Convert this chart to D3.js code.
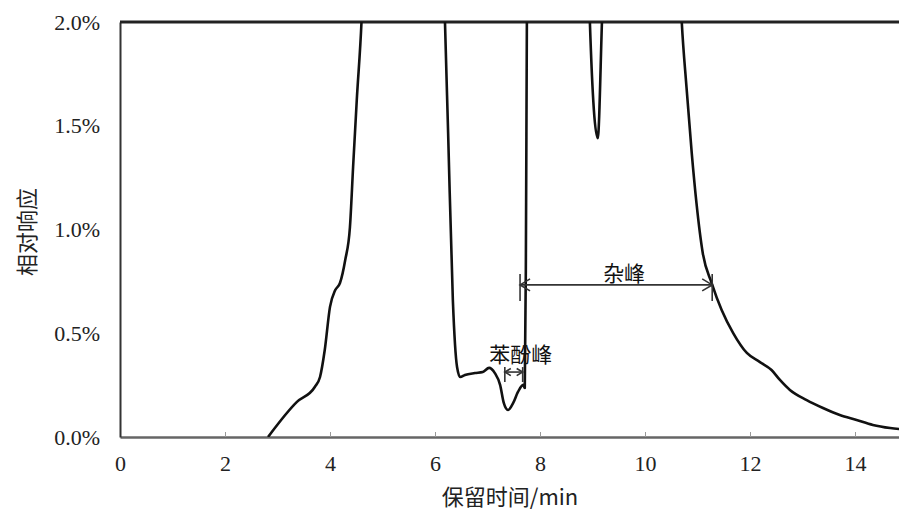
<!DOCTYPE html>
<html lang="zh">
<head>
<meta charset="UTF-8">
<title>相对响应</title>
<style>
  body { margin: 0; background: #fff; }
  .tick-label { font: 22px "Liberation Serif", serif; fill: #222; }
  .title { font: 22px "Noto Sans CJK SC", sans-serif; fill: #222; }
  .note { font: 21px "Noto Sans CJK SC", sans-serif; fill: #111; }
</style>
</head>
<body>
<script src="https://d3js.org/d3.v7.min.js"></script>
<script>
// retention time (min) and relative response (%)
var time = [2.82, 3.37, 3.71, 3.81, 3.90, 4.00, 4.10, 4.19, 4.29, 4.38, 4.44, 4.51, 4.60,
  4.75, 5.30, 6.00, 6.19, 6.25, 6.34, 6.42, 6.48, 6.57, 6.76, 6.91, 7.03, 7.14, 7.24,
  7.31, 7.39, 7.49, 7.58, 7.68, 7.71, 7.73, 7.75, 7.80, 8.40, 8.90, 8.95, 9.10, 9.18,
  9.30, 10.00, 10.60, 10.70, 10.79, 10.89, 10.98, 11.10, 11.27, 11.46, 11.68, 11.94,
  12.19, 12.41, 12.57, 12.76, 13.08, 13.39, 13.71, 14.03, 14.34, 14.67, 15.00];
var response = [0.000, 0.169, 0.241, 0.289, 0.419, 0.627, 0.708, 0.742, 0.853, 1.012, 1.301, 1.624, 2.000,
  3.200, 6.000, 4.000, 2.000, 1.465, 0.660, 0.337, 0.289, 0.299, 0.308, 0.313, 0.333, 0.308, 0.251,
  0.164, 0.130, 0.164, 0.217, 0.251, 0.236, 0.800, 2.000, 3.500, 5.000, 2.600, 2.000, 1.440, 2.000,
  3.000, 6.000, 2.600, 2.000, 1.687, 1.369, 1.128, 0.887, 0.742, 0.612, 0.501, 0.405,
  0.361, 0.323, 0.275, 0.227, 0.178, 0.140, 0.106, 0.082, 0.058, 0.043, 0.035];

var xTicks = [0, 2, 4, 6, 8, 10, 12, 14];
var yTicks = [0, 0.5, 1.0, 1.5, 2.0];

// peak width annotations: label, start, end (min), level (%)
var noteLabels = ["苯酚峰", "杂峰"];
var noteStart = [7.33, 7.62];
var noteEnd = [7.67, 11.28];
var noteLevel = [0.313, 0.733];

var width = 899, height = 516;
var plotLeft = 120, plotTop = 22, plotBottom = 437;

var svg = d3.select("body").append("svg").attr("width", width).attr("height", height);

var xScale = d3.scaleLinear().domain([0, 15]).range([plotLeft, plotLeft + 15 * 52.5]);
var yScale = d3.scaleLinear().domain([0, 2]).range([plotBottom, plotTop]);

var data = time.map(function(t, i) { return { t: t, v: response[i] }; });

svg.append("clipPath").attr("id", "plot")
  .append("rect").attr("x", plotLeft).attr("y", plotTop)
  .attr("width", width - plotLeft).attr("height", plotBottom - plotTop);

// x axis
var axisx = d3.axisBottom(xScale).tickValues(xTicks).tickSize(0).tickPadding(18)
  .tickFormat(d3.format("d"));
var gx = svg.append("g").attr("transform", "translate(0," + plotBottom + ")").call(axisx);
gx.select(".domain").attr("stroke", "#666").attr("stroke-width", 2.5);
gx.selectAll(".tick text").attr("class", "tick-label");
gx.attr("font-size", null).attr("font-family", null);
gx.selectAll(".tick").filter(function(d) { return d > 0; }).append("line")
  .attr("y1", 0).attr("y2", -5).attr("stroke", "#999").attr("stroke-width", 1);

// y axis
var axisy = d3.axisLeft(yScale).tickValues(yTicks).tickSize(0).tickPadding(20)
  .tickFormat(function(d) { return d.toFixed(1) + "%"; });
var gy = svg.append("g").attr("transform", "translate(" + plotLeft + ",0)").call(axisy);
gy.select(".domain").attr("stroke", "#333").attr("stroke-width", 2);
gy.selectAll(".tick text").attr("class", "tick-label");
gy.attr("font-size", null).attr("font-family", null);

// top frame line
svg.append("line")
  .attr("x1", plotLeft).attr("x2", width).attr("y1", yScale(2)).attr("y2", yScale(2))
  .attr("stroke", "#222").attr("stroke-width", 3);

// chromatogram
var line = d3.line()
  .x(function(d) { return xScale(d.t); })
  .y(function(d) { return yScale(d.v); })
  .curve(d3.curveMonotoneX);

svg.append("path")
  .datum(data)
  .attr("clip-path", "url(#plot)")
  .attr("fill", "none")
  .attr("stroke", "#111")
  .attr("stroke-width", 2.6)
  .attr("stroke-linejoin", "round")
  .attr("d", line);

// annotations
noteLabels.forEach(function(label, i) {
  var x0 = xScale(noteStart[i]), x1 = xScale(noteEnd[i]), y = yScale(noteLevel[i]);
  var g = svg.append("g").attr("stroke", "#333").attr("stroke-width", 1.6).attr("fill", "none");
  var h = i === 0 ? 10 : 16;
  var a = i === 0 ? 6 : 10;
  g.append("line").attr("x1", x0).attr("x2", x0).attr("y1", y - h + 5).attr("y2", y + h);
  g.append("line").attr("x1", x1).attr("x2", x1).attr("y1", y - h + 5).attr("y2", y + h);
  g.append("line").attr("x1", x0).attr("x2", x1).attr("y1", y).attr("y2", y);
  g.append("path").attr("d", "M" + (x0 + a) + "," + (y - a * 0.6) + "L" + x0 + "," + y + "L" + (x0 + a) + "," + (y + a * 0.6));
  g.append("path").attr("d", "M" + (x1 - a) + "," + (y - a * 0.6) + "L" + x1 + "," + y + "L" + (x1 - a) + "," + (y + a * 0.6));
  svg.append("text").attr("class", "note")
    .attr("x", i === 0 ? x1 - 2 : (x0 + x1) / 2 + 8)
    .attr("y", i === 0 ? y - 10 : y - 4)
    .attr("text-anchor", "middle")
    .text(label);
});

// axis titles
svg.append("text").attr("class", "title")
  .attr("x", 510).attr("y", 505).attr("text-anchor", "middle")
  .text("保留时间/min");
svg.append("text").attr("class", "title")
  .attr("transform", "translate(35,232) rotate(-90)").attr("text-anchor", "middle")
  .text("相对响应");
</script>
</body>
</html>
